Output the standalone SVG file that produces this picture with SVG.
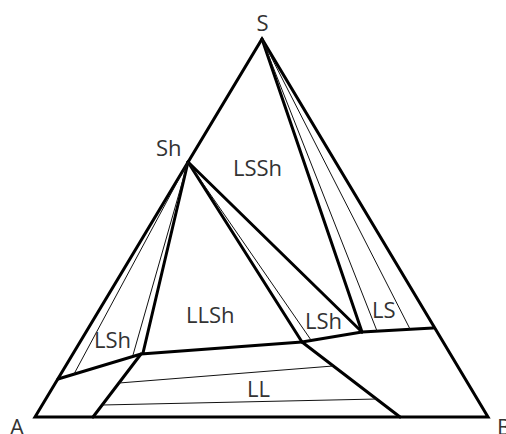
<svg xmlns="http://www.w3.org/2000/svg" width="506" height="434" viewBox="0 0 506 434">
<style>
.thick{fill:none;stroke:#000;stroke-width:3;stroke-linejoin:miter;stroke-linecap:round}
.thin{fill:none;stroke:#111;stroke-width:1}
.lbl{font-family:"Open Sans","DejaVu Sans",sans-serif;font-size:22px;fill:#333}
</style>
<rect width="506" height="434" fill="#fff"/>
<g id="connectors">
<polygon class="thick" points="35,417 262,39 488,417"/>
<polyline class="thick" points="58,379 141,354 302,342 362,332 433,328"/>
<line class="thick" x1="141" y1="354" x2="93" y2="417"/>
<line class="thick" x1="302" y1="342" x2="400" y2="417"/>
<line class="thick" x1="188" y1="162" x2="143" y2="353"/>
<line class="thick" x1="188" y1="162" x2="302" y2="342"/>
<line class="thick" x1="188" y1="162" x2="362" y2="332"/>
<line class="thick" x1="262" y1="39" x2="362" y2="332"/>
<line class="thin" x1="188" y1="162" x2="74" y2="374"/>
<line class="thin" x1="188" y1="162" x2="133" y2="355"/>
<line class="thin" x1="188" y1="162" x2="311" y2="340"/>
<line class="thin" x1="262" y1="39" x2="377" y2="331"/>
<line class="thin" x1="262" y1="39" x2="410" y2="329"/>
<line class="thin" x1="119" y1="383" x2="333" y2="366"/>
<line class="thin" x1="102" y1="405" x2="377" y2="399"/>
</g>
<g id="labels">
<text id="S" class="lbl" x="262.5" y="31" text-anchor="middle">S</text>
<text id="Sh" class="lbl" x="156" y="156">Sh</text>
<text id="LSSh" class="lbl" x="233" y="176">LSSh</text>
<text id="LLSh" class="lbl" x="186" y="323">LLSh</text>
<text id="LSh-right" class="lbl" x="305" y="329">LSh</text>
<text id="LS" class="lbl" x="372" y="318">LS</text>
<text id="LSh-left" class="lbl" x="94" y="348">LSh</text>
<text id="LL" class="lbl" x="247" y="397">LL</text>
<text id="A" class="lbl" x="10" y="435">A</text>
<text id="B" class="lbl" x="497" y="435">B</text>
</g>
</svg>
